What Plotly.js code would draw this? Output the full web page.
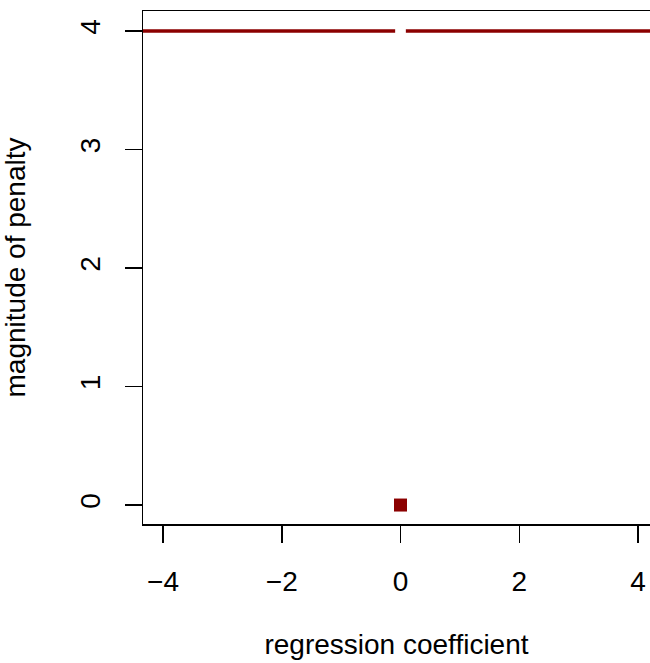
<!DOCTYPE html>
<html>
<head>
<script src="https://cdn.plot.ly/plotly-3.0.1.min.js"></script>
<style>html,body{margin:0;padding:0;background:#fff;}#chart{width:650px;height:663px;}</style>
</head>
<body>
<div id="chart"></div>
<script>
// L0 penalty: constant 4 everywhere except 0 at the origin
const penaltyX = [-5, -0.09, null, 0.09, 5];
const penaltyY = [4, 4, null, 4, 4];
const pointX = [0];
const pointY = [0];
const xTicks = [-4, -2, 0, 2, 4];
const yTicks = [0, 1, 2, 3, 4];

const color = '#8B0000';
const font = {family: 'Liberation Sans, Arial, sans-serif', size: 28, color: '#000'};

const data = [
  {x: penaltyX, y: penaltyY, mode: 'lines', line: {color: color, width: 3.5}, hoverinfo: 'skip'},
  {x: pointX, y: pointY, mode: 'markers', marker: {symbol: 'square', size: 13, color: color}, hoverinfo: 'skip'}
];

const layout = {
  width: 650, height: 663,
  margin: {l: 143, r: 0, t: 11, b: 139},
  showlegend: false,
  paper_bgcolor: '#fff', plot_bgcolor: '#fff',
  font: font,
  xaxis: {
    range: [-4.337, 4.202], tickvals: xTicks, ticktext: xTicks.map(v => v < 0 ? '\u2212' + Math.abs(v) : String(v)),
    ticks: 'outside', ticklen: 17, tickwidth: 1.5, tickcolor: '#000',
    showline: true, mirror: true, linecolor: '#000', linewidth: 1.5,
    showgrid: false, zeroline: false, tickfont: font, ticklabelstandoff: 15,
    title: {text: 'regression coefficient', font: font, standoff: 38}
  },
  yaxis: {
    range: [-0.160, 4.169], tickvals: yTicks, tickangle: -90,
    ticks: 'outside', ticklen: 17, tickwidth: 1.5, tickcolor: '#000',
    showline: true, mirror: false, linecolor: '#000', linewidth: 1.5,
    showgrid: false, zeroline: false, tickfont: font, ticklabelstandoff: 13,
    title: {text: 'magnitude of penalty', font: font, standoff: 42}
  }
};

Plotly.newPlot('chart', data, layout, {staticPlot: true, displayModeBar: false});
</script>
</body>
</html>
